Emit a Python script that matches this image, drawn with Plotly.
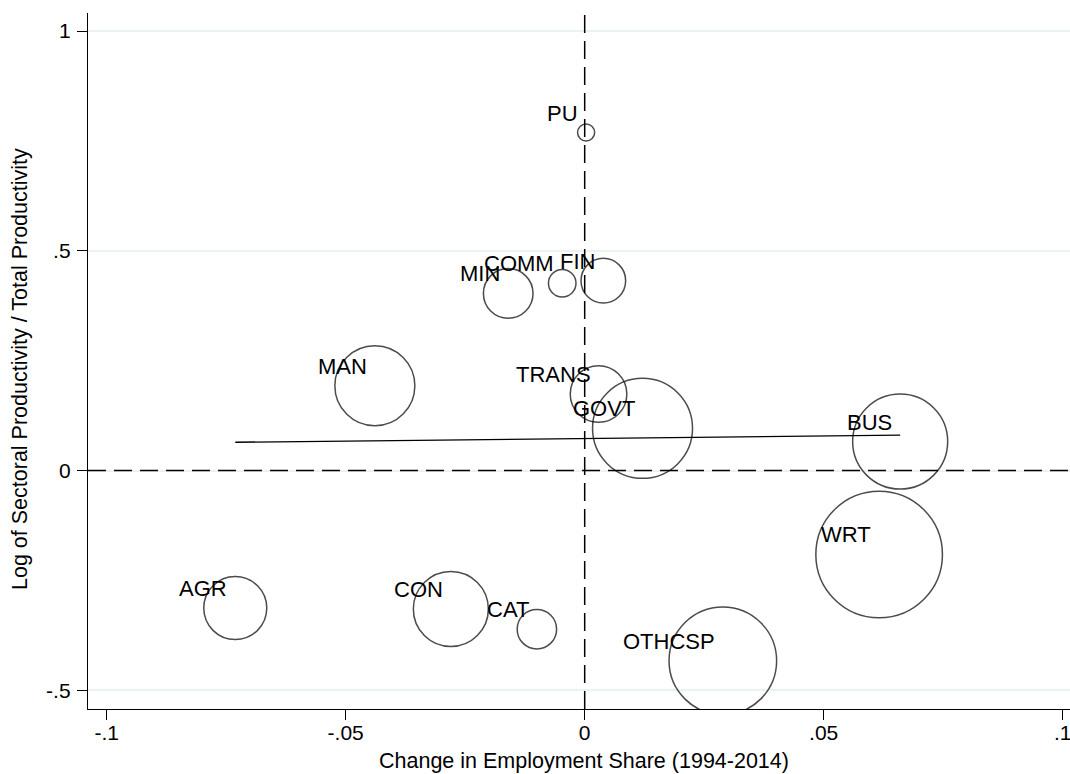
import numpy as np
import plotly.graph_objects as go

# Sector codes
sectors = ["PU", "MIN", "COMM", "FIN", "MAN", "TRANS", "GOVT",
           "BUS", "WRT", "AGR", "CON", "CAT", "OTHCSP"]

# Change in employment share, 1994-2014
emp_change = [0.0003, -0.0160, -0.0047, 0.0039, -0.0439, 0.0029, 0.0121,
              0.0660, 0.0616, -0.0731, -0.0280, -0.0100, 0.0289]

# Log of sectoral productivity relative to total productivity
log_rel_prod = [0.769, 0.403, 0.426, 0.432, 0.193, 0.174, 0.096,
                0.066, -0.191, -0.313, -0.315, -0.361, -0.433]

# Employment share (%), used as bubble weight
emp_share = [0.40, 3.37, 1.04, 2.73, 8.77, 4.39, 13.70,
             12.37, 21.96, 5.44, 7.71, 2.13, 15.86]

x_ticks = [-0.1, -0.05, 0, 0.05, 0.1]
x_tick_text = ["-.1", "-.05", "0", ".05", ".1"]
y_ticks = [-0.5, 0, 0.5, 1]
y_tick_text = ["-.5", "0", ".5", "1"]

FONT = "Liberation Sans, Arial, Helvetica, sans-serif"
INK = "black"

x = np.array(emp_change)
y = np.array(log_rel_prod)

# Linear fit across the observed range of employment-share changes
slope, intercept = np.polyfit(x, y, 1)
fit_x = np.array([x.min(), x.max()])
fit_y = intercept + slope * fit_x

fig = go.Figure()

# Bubbles: area proportional to employment share
fig.add_trace(go.Scatter(
    x=emp_change, y=log_rel_prod, mode="markers",
    marker=dict(size=emp_share, sizemode="area", sizeref=1 / (2 * 182.45),
                color="rgba(0,0,0,0)", line=dict(color=INK, width=1.5)),
    hoverinfo="text", text=sectors, showlegend=False,
))

fig.add_trace(go.Scatter(
    x=fit_x, y=fit_y, mode="lines",
    line=dict(color=INK, width=1.4), showlegend=False, hoverinfo="skip",
))

annotations = []
for name, xv, yv in zip(sectors, emp_change, log_rel_prod):
    annotations.append(dict(
        x=xv, y=yv, xref="x", yref="y", text=name, showarrow=False,
        xanchor="right", yanchor="bottom", xshift=-6, yshift=5,
        font=dict(family=FONT, size=22, color=INK),
    ))

# Axis titles
annotations.append(dict(
    x=0.5056, y=-0.0743, xref="paper", yref="paper",
    text="Change in Employment Share (1994-2014)", showarrow=False,
    xanchor="center", yanchor="middle",
    font=dict(family=FONT, size=21.5, color=INK),
))
annotations.append(dict(
    x=-0.0698, y=0.4892, xref="paper", yref="paper",
    text="Log of Sectoral Productivity / Total Productivity", showarrow=False,
    textangle=-90, xanchor="center", yanchor="middle",
    font=dict(family=FONT, size=21.5, color=INK),
))

fig.update_layout(
    width=1070, height=774,
    margin=dict(l=88, r=0, t=13, b=65),
    paper_bgcolor="white", plot_bgcolor="white",
    font=dict(family=FONT, size=21, color=INK),
    annotations=annotations,
    shapes=[
        dict(type="line", xref="x", yref="paper", x0=0, x1=0, y0=0, y1=1,
             line=dict(color=INK, width=1.5, dash="18px,8px")),
        dict(type="line", xref="paper", yref="y", x0=0, x1=1, y0=0, y1=0,
             line=dict(color=INK, width=1.5, dash="18px,8px")),
    ],
    xaxis=dict(
        range=[-0.10391, 0.10153], tickvals=x_ticks, ticktext=x_tick_text,
        showgrid=False, zeroline=False, showline=True, linecolor=INK,
        linewidth=1.4, ticks="outside", ticklen=10, tickwidth=1.3,
        tickcolor=INK, tickfont=dict(family=FONT, size=21, color=INK),
        ticklabelstandoff=-5, ticklabeloverflow="allow",
    ),
    yaxis=dict(
        range=[-0.54256, 1.04096], tickvals=y_ticks, ticktext=y_tick_text,
        showgrid=True, gridcolor="#EAF2F3", gridwidth=1.6, zeroline=False,
        showline=True, linecolor=INK, linewidth=1.4, ticks="outside",
        ticklen=10, tickwidth=1.3, tickcolor=INK,
        tickfont=dict(family=FONT, size=21, color=INK),
        ticklabelstandoff=2, ticklabeloverflow="allow",
    ),
)

fig.write_html("out.html")
